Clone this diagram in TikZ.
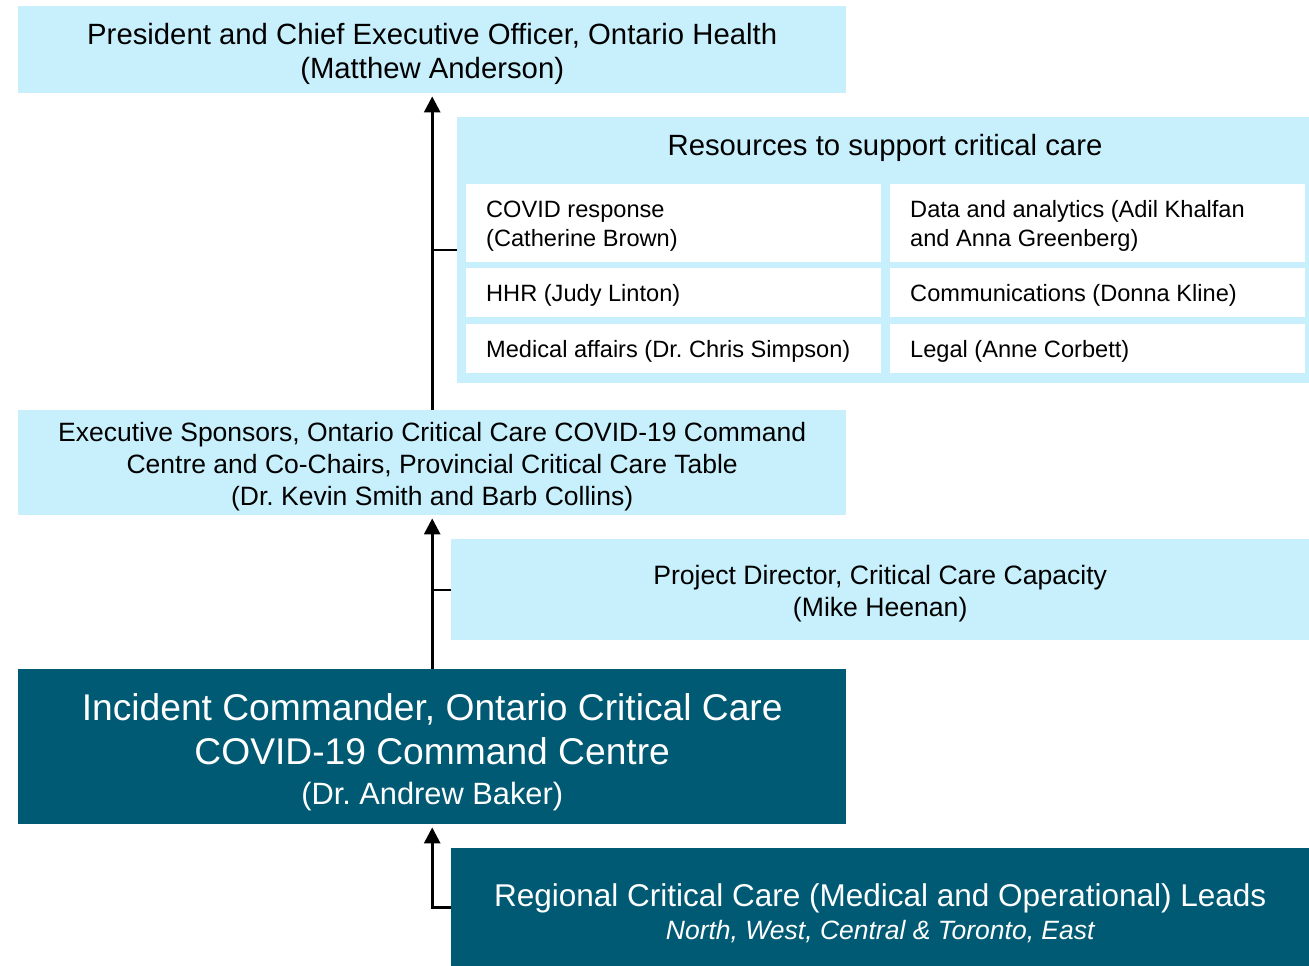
\documentclass[tikz,border=0pt]{standalone}
\usepackage{fontspec}
\setmainfont{Liberation Sans}
\usetikzlibrary{arrows.meta}
\definecolor{lightbox}{RGB}{199,240,252}
\definecolor{darkbox}{RGB}{0,90,115}
\frenchspacing
\begin{document}
\begin{tikzpicture}[x=1pt,y=-1pt,
  lbox/.style={fill=lightbox,draw=none,anchor=north west,inner sep=0pt,align=center},
  dbox/.style={fill=darkbox,draw=none,anchor=north west,inner sep=0pt,align=center,text=white},
  cell/.style={fill=white,draw=none,anchor=north west,inner sep=0pt,minimum width=415pt},
  celltext/.style={anchor=west,inner sep=0pt,align=left,font=\fontsize{23.6}{29}\selectfont},
  arr/.style={line width=2.8pt,-{Triangle[width=16pt,length=16pt]},shorten >=3pt},
  tick/.style={line width=2.2pt}]
\useasboundingbox (0,0) rectangle (1309,966);
% top box
\node[lbox,minimum width=828pt,minimum height=87pt] (top) at (18,6) {};
\node[font=\fontsize{29.3}{34}\selectfont,align=center,inner sep=0pt] (toptext) at ([yshift=-4pt]top.center)
  {President and Chief Executive Officer, Ontario Health\\(Matthew Anderson)};
% resources box
\node[lbox,minimum width=852pt,minimum height=266pt] (res) at (457,117) {};
\node[font=\fontsize{29.3}{30}\selectfont,inner sep=0pt] (restitle) at (885,148) {Resources to support critical care};
\node[cell,minimum height=78pt] (c11) at (466,184) {};
\node[cell,minimum height=49pt] (c21) at (466,268) {};
\node[cell,minimum height=49pt] (c31) at (466,324) {};
\node[cell,minimum height=78pt] (c12) at (890,184) {};
\node[cell,minimum height=49pt] (c22) at (890,268) {};
\node[cell,minimum height=49pt] (c32) at (890,324) {};
\node[celltext] (t11) at ([xshift=20pt,yshift=-3pt]c11.west) {COVID response\\(Catherine Brown)};
\node[celltext] (t21) at ([xshift=20pt,yshift=-3pt]c21.west) {HHR (Judy Linton)};
\node[celltext] (t31) at ([xshift=20pt,yshift=-3pt]c31.west) {Medical affairs (Dr. Chris Simpson)};
\node[celltext] (t12) at ([xshift=20pt,yshift=-3pt]c12.west) {Data and analytics (Adil Khalfan\\and Anna Greenberg)};
\node[celltext] (t22) at ([xshift=20pt,yshift=-3pt]c22.west) {Communications (Donna Kline)};
\node[celltext] (t32) at ([xshift=20pt,yshift=-3pt]c32.west) {Legal (Anne Corbett)};
% executive sponsors
\node[lbox,minimum width=828pt,minimum height=105pt] (exec) at (18,410) {};
\node[font=\fontsize{26.5}{32}\selectfont,align=center,inner sep=0pt] (exectext) at ([yshift=-4pt]exec.center)
  {Executive Sponsors, Ontario Critical Care COVID-19 Command\\Centre and Co-Chairs, Provincial Critical Care Table\\(Dr. Kevin Smith and Barb Collins)};
% project director
\node[lbox,minimum width=858pt,minimum height=101pt] (proj) at (451,539) {};
\node[font=\fontsize{26.6}{32}\selectfont,align=center,inner sep=0pt] (projtext) at ([yshift=-4pt]proj.center)
  {Project Director, Critical Care Capacity\\(Mike Heenan)};
% incident commander
\node[dbox,minimum width=828pt,minimum height=155pt] (inc) at (18,669) {};
\node[font=\fontsize{37.2}{44}\selectfont,align=center,inner sep=0pt,text=white] (inctext) at ([yshift=-6pt]inc.center)
  {Incident Commander, Ontario Critical Care\\COVID-19 Command Centre\\[-4pt]\fontsize{30.8}{42}\selectfont (Dr. Andrew Baker)};
% regional
\node[dbox,minimum width=858pt,minimum height=118pt] (reg) at (451,848) {};
\node[font=\fontsize{31.5}{35}\selectfont,align=center,inner sep=0pt,text=white] (regtext) at ([yshift=-6pt]reg.center)
  {Regional Critical Care (Medical and Operational) Leads\\[-2pt]\fontsize{26.5}{35}\selectfont\itshape North, West, Central \& Toronto, East};
% connectors
\draw[arr] (exec.north) -- (top.south);
\draw[tick] (res.west) -- (res.west -| top.south);
\draw[arr] (inc.north) -- (exec.south);
\draw[tick] (proj.west) -- (proj.west -| exec.south);
\draw[arr] (reg.west) -- (reg.west -| inc.south) -- (inc.south);
\end{tikzpicture}
\end{document}
